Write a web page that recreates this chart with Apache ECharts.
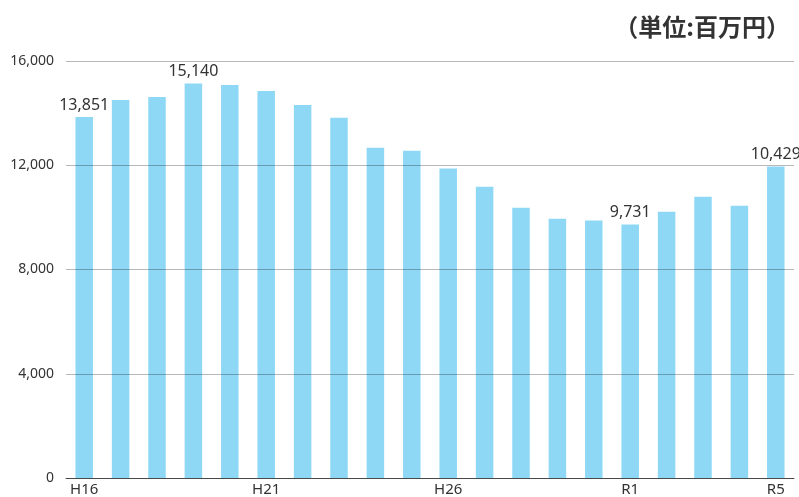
<!DOCTYPE html>
<html>
<head>
<meta charset="utf-8">
<script src="https://cdn.jsdelivr.net/npm/echarts@6/dist/echarts.min.js"></script>
<style>
html,body{margin:0;padding:0;background:#fff;}
#chart{width:799px;height:497px;}
</style>
</head>
<body>
<div id="chart"></div>
<script>
const categories = ['H16','H17','H18','H19','H20','H21','H22','H23','H24','H25','H26','H27','H28','H29','H30','R1','R2','R3','R4','R5'];
const values = [13851,14507,14622,15140,15081,14852,14316,13818,12670,12555,11880,11177,10373,9952,9876,9731,10220,10794,10450,11954];
const valueLabels = ['13,851','','','15,140','','','','','','','','','','','','9,731','','','','10,429'];
const shownTicks = ['H16','H21','H26','R1','R5'];
const unitText = '（単位:百万円）';

const chart = echarts.init(document.getElementById('chart'));
chart.setOption({
  animation: false,
  backgroundColor: '#fff',
  title: {
    text: unitText,
    right: 4,
    top: 10,
    textStyle: {fontFamily: 'Noto Sans CJK JP', fontSize: 24, fontWeight: 'bold', color: '#333'}
  },
  grid: {left: 66, right: 5, top: 61, bottom: 18, containLabel: false},
  xAxis: {
    type: 'category',
    data: categories,
    axisTick: {show: false},
    axisLine: {lineStyle: {color: '#666', width: 1}},
    axisLabel: {
      interval: function (i, v) { return shownTicks.indexOf(v) >= 0; },
      fontFamily: 'Noto Sans', fontSize: 15, color: '#333', margin: 4
    }
  },
  yAxis: {
    type: 'value',
    min: 0, max: 16000, interval: 4000,
    z: 5,
    axisLine: {show: false},
    axisTick: {show: false},
    splitLine: {lineStyle: {color: 'rgba(0,0,0,0.28)', width: 1}},
    axisLabel: {
      margin: 12,
      fontFamily: 'Noto Sans', fontSize: 14, color: '#333',
      formatter: function (v) { return v.toLocaleString('en-US'); }
    }
  },
  series: [{
    type: 'bar',
    data: values,
    barWidth: 17.5,
    itemStyle: {color: '#8ed8f6'},
    label: {
      show: true,
      position: 'top',
      distance: 4,
      fontFamily: 'Noto Sans', fontSize: 16, color: '#333',
      formatter: function (p) { return valueLabels[p.dataIndex]; }
    }
  }]
});
</script>
</body>
</html>
